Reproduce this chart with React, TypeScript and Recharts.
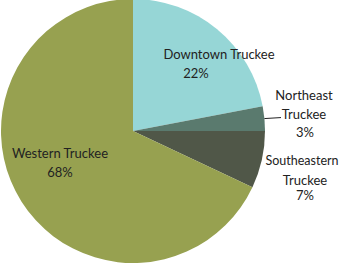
import { Pie, PieChart, Cell } from 'recharts'

const regions = ['Downtown Truckee', 'Northeast Truckee', 'Southeastern Truckee', 'Western Truckee']
const shares = [22, 3, 7, 68]
const labelLines = [
  ['Downtown Truckee', '22%'],
  ['Northeast', 'Truckee', '3%'],
  ['Southeastern', 'Truckee', '7%'],
  ['Western Truckee', '68%'],
]

const colors = ['#96d6d6', '#5a7a6e', '#505748', '#97a150']
// label offsets from the pie centre, one [dx, dy] per text line
const labelOffsets = [
  [[86, -72], [63, -53]],
  [[171, -31], [171, -12], [172, 6]],
  [[169, 34], [172, 54], [172, 69]],
  [[-73, 27], [-73, 46]],
]

const data = regions.map((name, i) => ({ name, value: shares[i] }))

const RAD = Math.PI / 180

function renderLabel(props: any) {
  const { cx, cy, midAngle, outerRadius, index } = props
  const lines = labelLines[index]
  const offs = labelOffsets[index]
  let leader = null
  if (index === 1) {
    const x0 = cx + outerRadius * Math.cos(-midAngle * RAD)
    const y0 = cy + outerRadius * Math.sin(-midAngle * RAD)
    leader = <path d={`M${x0},${y0}L${cx + offs[1][0] - 23},${y0 - 1}`} stroke="#222" strokeWidth={1} fill="none" />
  }
  return (
    <g>
      {leader}
      {lines.map((t, j) => (
        <text
          key={j}
          x={cx + offs[j][0]}
          y={cy + offs[j][1]}
          textAnchor="middle"
          fill="#222"
          fontSize={index === 2 && j === 0 ? 12.5 : 13}
          fontFamily="Lato, 'Noto Sans', sans-serif"
        >
          {t}
        </text>
      ))}
    </g>
  )
}

export default function App() {
  return (
    <div style={{ position: 'fixed', left: 0, top: 0, width: 340, height: 264, background: '#fff' }}>
      <PieChart width={340} height={264} margin={{ top: 0, right: 0, bottom: 0, left: 0 }}>
        <Pie
          data={data}
          dataKey="value"
          nameKey="name"
          cx={133}
          cy={131}
          outerRadius={132}
          startAngle={90}
          endAngle={-270}
          stroke="none"
          label={renderLabel}
          labelLine={false}
          isAnimationActive={false}
        >
          {data.map((d, i) => (
            <Cell key={d.name} fill={colors[i]} />
          ))}
        </Pie>
      </PieChart>
    </div>
  )
}
